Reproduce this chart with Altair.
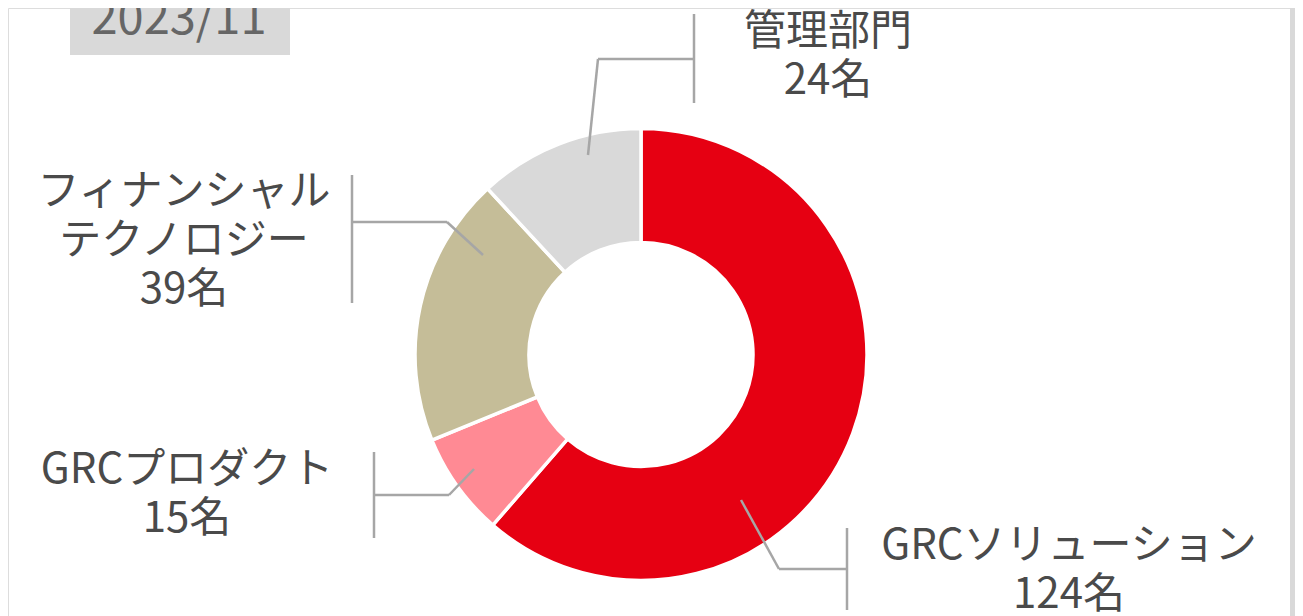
import altair as alt
import pandas as pd

# ---- data ----
categories = ["GRCソリューション", "GRCプロダクト", "フィナンシャルテクノロジー", "管理部門"]
display_names = ["GRCソリューション", "GRCプロダクト", "フィナンシャル\nテクノロジー", "管理部門"]
values = [124, 15, 39, 24]
title_text = "2023/11"

# ---- style / layout ----
colors = ["#E60012", "#FF8A94", "#C5BD98", "#D9D9D9"]
W, H = 1287, 608
CX, CY = 633, 346.5
FONT = "Noto Sans CJK JP"
LABEL_COLOR = "#4A4A4A"
LINE_COLOR = "#A6A6A6"
LINE_H = 49
label_anchor = [(1061, 538), (179, 461.5), (176, 183.5), (820, 24)]
# leader geometry per category: (vertical x, vertical y1, vertical y2, horizontal y, elbow x, tip x, tip y)
leaders = [
    (839, 520, 602, 561, 771, 733, 492),
    (366, 444, 530, 487, 441, 466, 461),
    (344, 167, 295, 214, 439, 475, 247),
    (686, 6, 95, 51, 590, 580, 147),
]

df = pd.DataFrame({"category": categories, "value": values, "idx": list(range(len(categories)))})

lab_rows = []
for name, v, (ax, ay) in zip(display_names, values, label_anchor):
    lines = name.split("\n") + [f"{v}名"]
    for i, t in enumerate(lines):
        lab_rows.append({"text": t, "x": ax, "y": ay + i * LINE_H})
lab_df = pd.DataFrame(lab_rows)

seg_rows = []
for (vx, vy1, vy2, hy, ex, tx, ty) in leaders:
    seg_rows.append({"x": vx, "x2": vx, "y": vy1, "y2": vy2})
    seg_rows.append({"x": ex, "x2": vx, "y": hy, "y2": hy})
    seg_rows.append({"x": tx, "x2": ex, "y": ty, "y2": hy})
seg_df = pd.DataFrame(seg_rows)

arcs = alt.Chart(df).mark_arc(
    innerRadius=112, outerRadius=226, stroke="white", strokeWidth=3.5
).encode(
    theta=alt.Theta("value:Q", stack=True),
    order=alt.Order("idx:Q"),
    color=alt.Color("category:N", scale=alt.Scale(domain=categories, range=colors), legend=None),
    x=alt.value(CX),
    y=alt.value(CY),
)

leader_lines = alt.Chart(seg_df).mark_rule(color=LINE_COLOR, strokeWidth=2.5).encode(
    x=alt.X("x:Q", scale=None),
    x2="x2:Q",
    y=alt.Y("y:Q", scale=None),
    y2="y2:Q",
)

labels = alt.Chart(lab_df).mark_text(
    font=FONT, fontSize=42, fontWeight=400, color=LABEL_COLOR, align="center", baseline="middle"
).encode(
    x=alt.X("x:Q", scale=None),
    y=alt.Y("y:Q", scale=None),
    text="text:N",
)

title_box = alt.Chart(pd.DataFrame({"t": [title_text]})).mark_rect(color="#D9D9D9").encode(
    x=alt.value(62), x2=alt.value(282), y=alt.value(0), y2=alt.value(47)
)
title = alt.Chart(pd.DataFrame({"t": [title_text]})).mark_text(
    font=FONT, fontSize=47, fontWeight=400, color="#666666", align="center", baseline="alphabetic"
).encode(x=alt.value(171), y=alt.value(26), text="t:N")

side_strip = alt.Chart(pd.DataFrame({"t": [0]})).mark_rect(color="#D9D9D9").encode(
    x=alt.value(1282), x2=alt.value(W), y=alt.value(0), y2=alt.value(H)
)

chart = alt.layer(side_strip, title_box, title, arcs, leader_lines, labels).properties(
    width=W, height=H, padding=0, autosize=alt.AutoSizeParams(type="none")
).configure_view(stroke=None).configure(background="white")

chart.save("out.html", embed_options={"renderer": "svg", "actions": False})
